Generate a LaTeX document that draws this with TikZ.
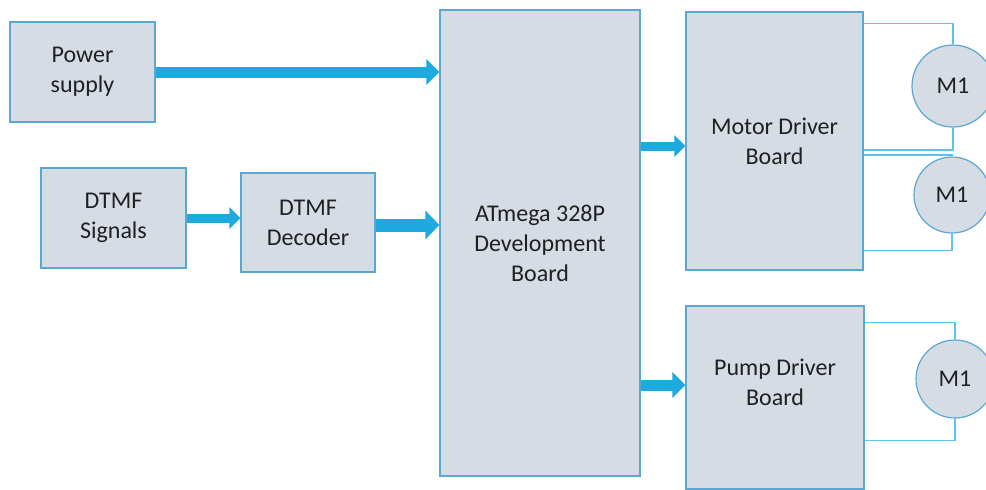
\documentclass[tikz,border=0pt]{standalone}
\usepackage{fontspec}
\setmainfont{Carlito}
\usetikzlibrary{arrows.meta}
\definecolor{boxfill}{HTML}{D6DCE4}
\definecolor{boxline}{HTML}{5AA7D1}
\definecolor{busblue}{HTML}{1EA9DF}
\definecolor{wireblue}{HTML}{5BC3EC}
\definecolor{textgray}{HTML}{202020}
\begin{document}
\begin{tikzpicture}[x=1pt, y=-1pt,
    block/.style={draw=boxline, line width=1.2pt, fill=boxfill, text=textgray,
        align=center, inner sep=0pt, font=\fontsize{24}{30}\selectfont},
    motor/.style={circle, draw=boxline, line width=1.2pt, fill=boxfill, text=textgray,
        minimum size=78pt, inner sep=0pt, font=\fontsize{24}{30}\selectfont},
    bus/.style={draw=busblue, line width=11pt, -{Triangle[width=25pt, length=13pt]}, busblue},
    wire/.style={draw=wireblue, line width=1.4pt}]
    \useasboundingbox (0,0) rectangle (986,490);
    \node[block, minimum width=145pt, minimum height=100pt] (power) at (82.5,72) {Power\\supply};
    \node[block, minimum width=145pt, minimum height=100pt] (signals) at (113.5,218) {DTMF\\Signals};
    \node[block, minimum width=134pt, minimum height=99pt] (decoder) at (308,222.5) {DTMF\\Decoder};
    \node[block, minimum width=200pt, minimum height=466pt] (atmega) at (540,243) {ATmega 328P\\Development\\Board};
    \node[block, minimum width=177pt, minimum height=258pt] (motordrv) at (774.5,141) {Motor Driver\\Board};
    \node[block, minimum width=178pt, minimum height=183pt] (pumpdrv) at (775,397.5) {};
    \node[text=textgray, align=center, font=\fontsize{24}{30}\selectfont] (pumplabel)
        at ([yshift=15pt]pumpdrv.center) {Pump Driver\\Board};
    \node[motor, minimum size=82pt] (m1) at (953,86) {M1};
    \node[motor, minimum size=76pt] (m2) at (952,195) {M1};
    \node[motor] (m3) at (955,379) {M1};

    \draw[bus] (power.east) -- (power.east -| atmega.west);
    \draw[bus, line width=9pt, -{Triangle[width=21pt, length=11pt]}] (signals.east) -- (signals.east -| decoder.west);
    \draw[bus, line width=13pt, -{Triangle[width=28pt, length=14pt]}] ([yshift=-2.5pt]decoder.east) -- ([yshift=-2.5pt]decoder.east -| atmega.west);
    \draw[bus, line width=9pt, -{Triangle[width=21pt, length=11pt]}] ([yshift=-5pt]motordrv.west -| atmega.east) -- ([yshift=-5pt]motordrv.west);
    \draw[bus] ([yshift=12.5pt]pumpdrv.west -| atmega.east) -- ([yshift=12.5pt]pumpdrv.west);

    \draw[wire] ([yshift=-12pt]motordrv.north east) -| (m1.north);
    \draw[wire] (m1.south) |- ([yshift=-9pt]motordrv.east);
    \draw[wire] ([yshift=-14pt]motordrv.east) -| (m2.north);
    \draw[wire] (m2.south) |- ([yshift=20pt]motordrv.south east);
    \draw[wire] ([yshift=-17pt]pumpdrv.north east) -| (m3.north);
    \draw[wire] (m3.south) |- ([yshift=49pt]pumpdrv.south east);
\end{tikzpicture}
\end{document}
